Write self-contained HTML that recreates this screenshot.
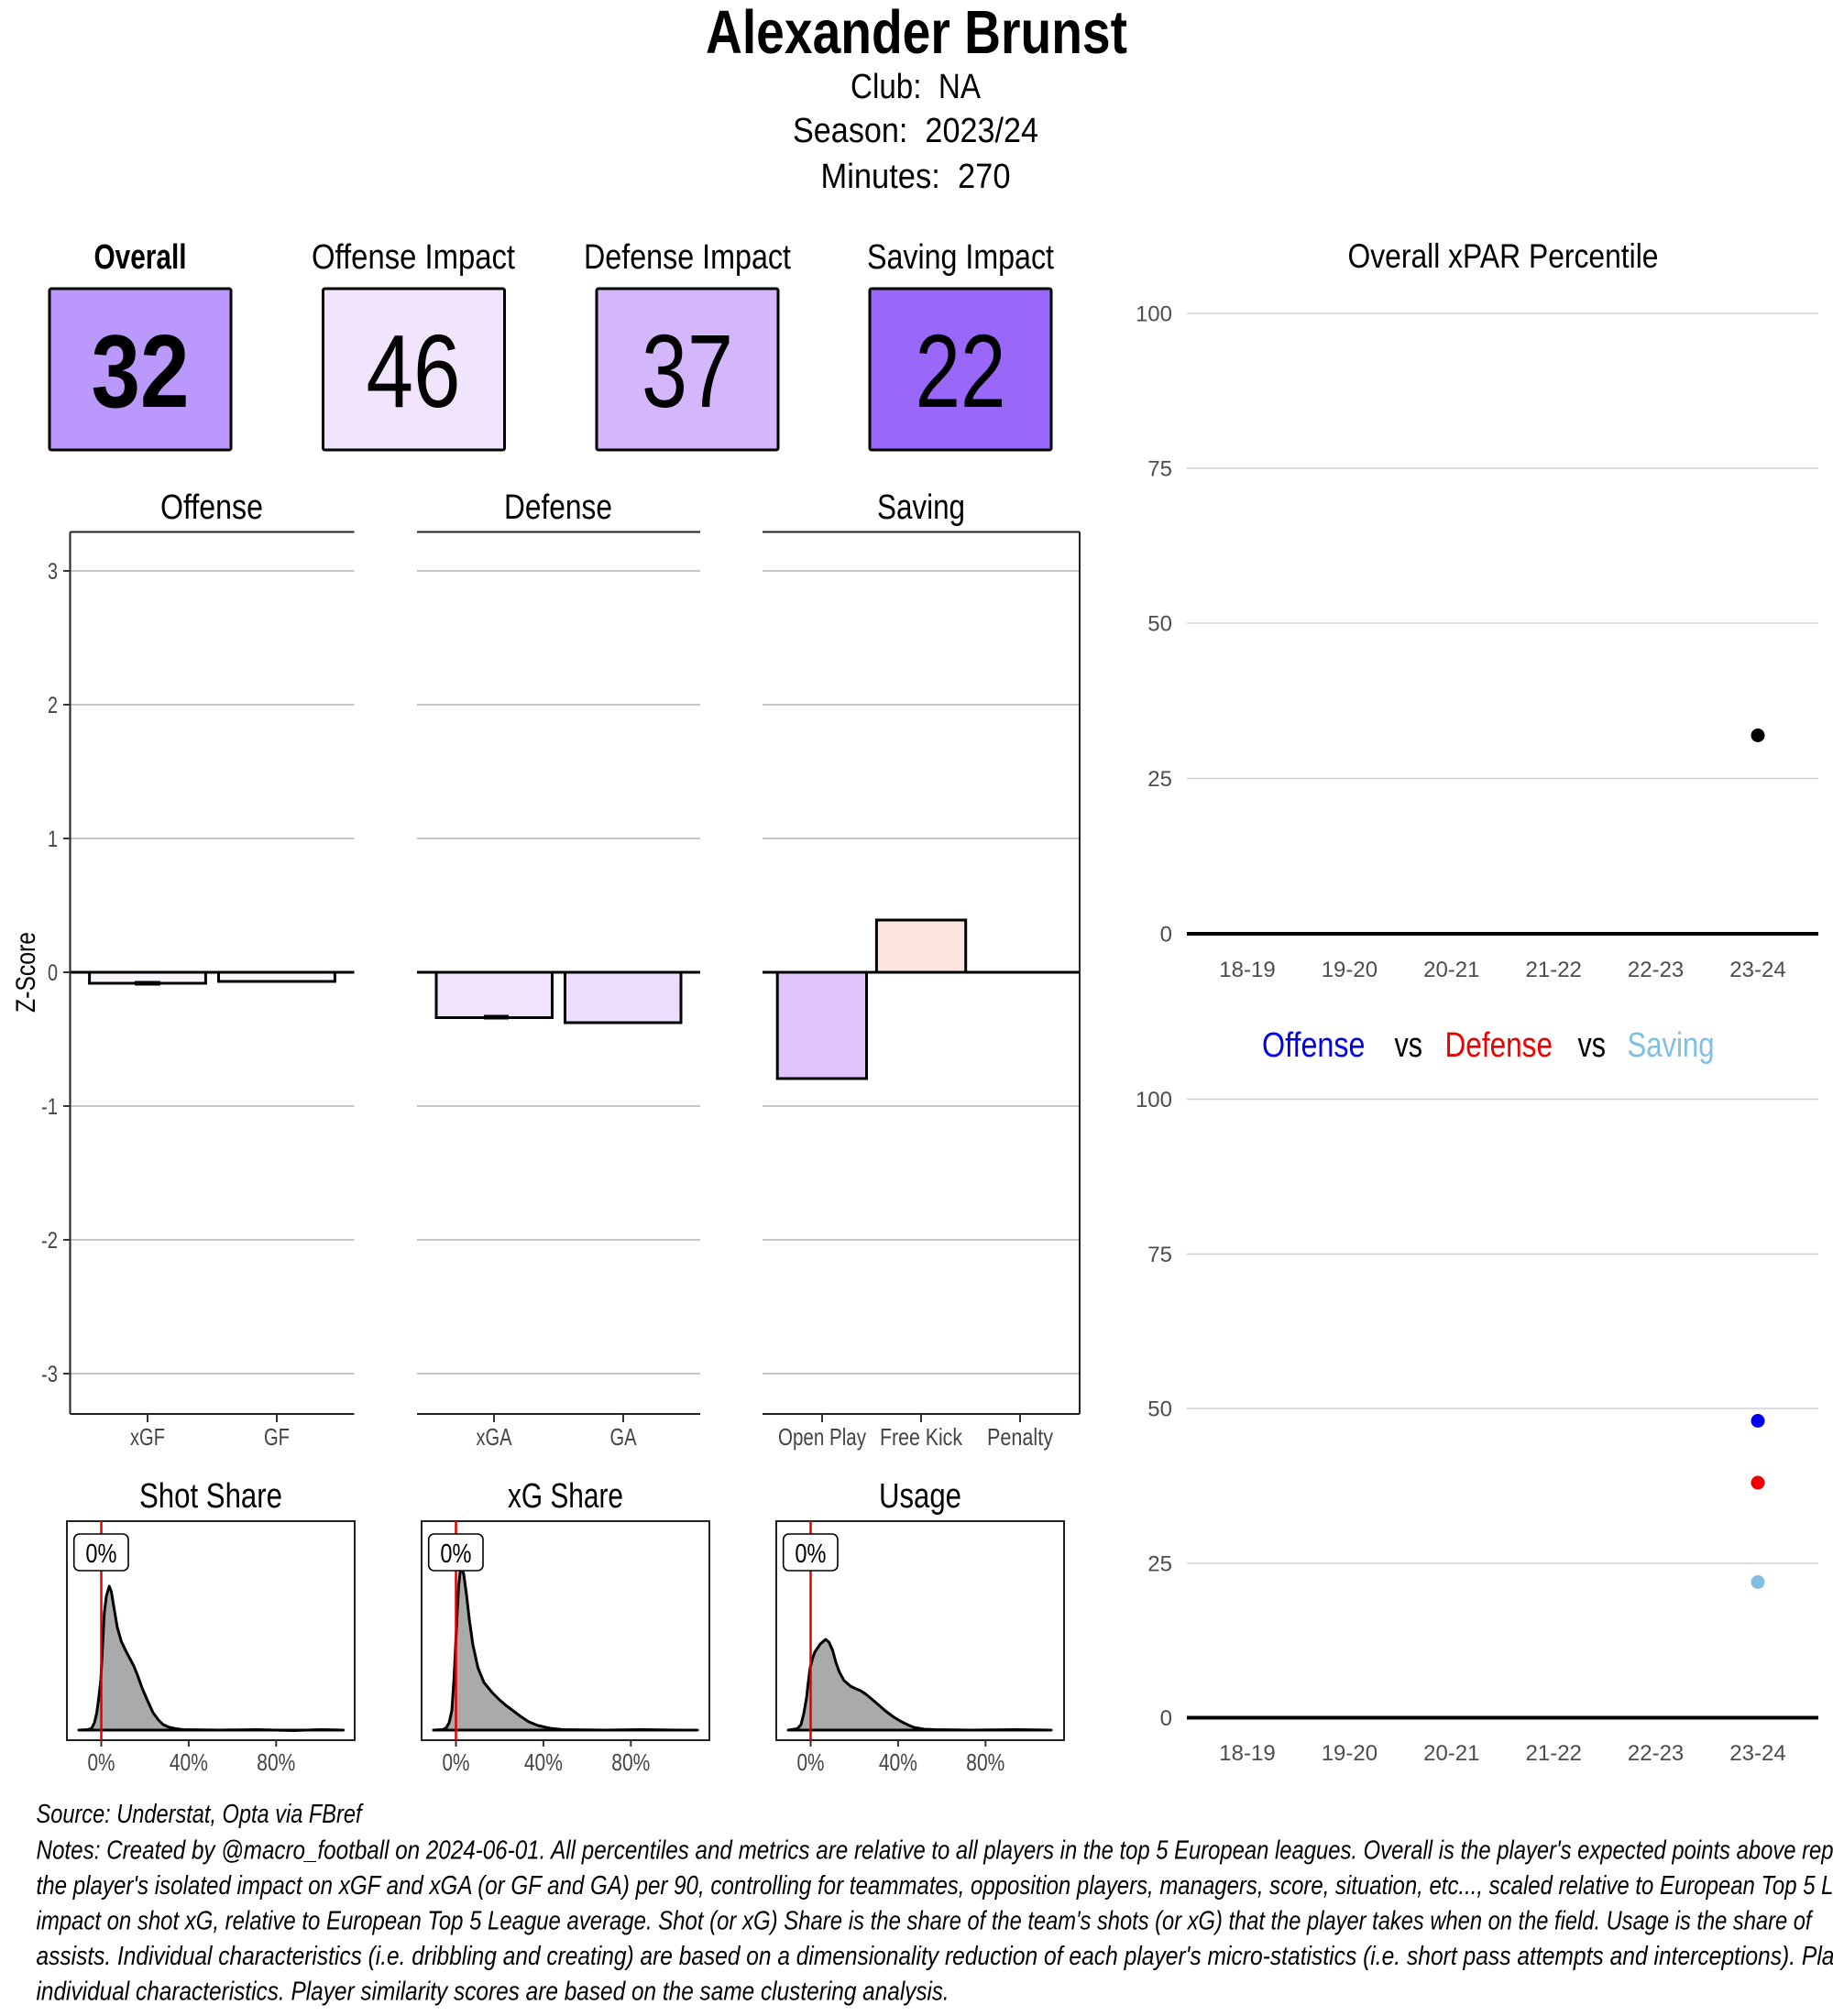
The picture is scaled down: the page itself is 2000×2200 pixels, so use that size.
<!DOCTYPE html>
<html>
<head>
<meta charset="utf-8">
<style>
html,body{margin:0;padding:0;background:#fff;}
body{width:2000px;height:2200px;overflow:hidden;}
svg{display:block;}
.n{font-family:"Liberation Sans Narrow","Liberation Sans",sans-serif;}
.r{font-family:"Liberation Sans",sans-serif;}
</style>
</head>
<body>
<svg width="2000" height="2200" viewBox="0 0 2000 2200" xmlns="http://www.w3.org/2000/svg">
<rect x="0" y="0" width="2000" height="2200" fill="#fff"/>

<!-- Header -->
<g class="n" text-anchor="middle" fill="#000">
  <text x="1000" y="58" font-size="67" font-weight="bold" textLength="460" lengthAdjust="spacingAndGlyphs">Alexander Brunst</text>
  <text x="999" y="107" font-size="38" textLength="142" lengthAdjust="spacingAndGlyphs">Club:&#160; NA</text>
  <text x="999" y="155" font-size="38" textLength="268" lengthAdjust="spacingAndGlyphs">Season:&#160; 2023/24</text>
  <text x="999" y="205" font-size="38" textLength="207" lengthAdjust="spacingAndGlyphs">Minutes:&#160; 270</text>
</g>

<!-- Impact boxes -->
<g class="n" text-anchor="middle" fill="#000">
  <text x="153" y="293" font-size="38" font-weight="bold" textLength="101" lengthAdjust="spacingAndGlyphs">Overall</text>
  <text x="451" y="293" font-size="38" textLength="222" lengthAdjust="spacingAndGlyphs">Offense Impact</text>
  <text x="750" y="293" font-size="38" textLength="226" lengthAdjust="spacingAndGlyphs">Defense Impact</text>
  <text x="1048" y="293" font-size="38" textLength="204" lengthAdjust="spacingAndGlyphs">Saving Impact</text>
</g>
<g stroke="#000" stroke-width="3">
  <rect x="54" y="315" width="198" height="176" rx="2" fill="#bb98fb"/>
  <rect x="352.5" y="315" width="198" height="176" rx="2" fill="#f1e4fd"/>
  <rect x="651" y="315" width="198" height="176" rx="2" fill="#d3b6fb"/>
  <rect x="949" y="315" width="198" height="176" rx="2" fill="#9a68f8"/>
</g>
<g class="n" text-anchor="middle" fill="#000" font-size="113">
  <text x="153" y="444" font-weight="bold" textLength="107" lengthAdjust="spacingAndGlyphs">32</text>
  <text x="451" y="444" textLength="103" lengthAdjust="spacingAndGlyphs">46</text>
  <text x="750" y="444" textLength="100" lengthAdjust="spacingAndGlyphs">37</text>
  <text x="1048" y="444" textLength="99" lengthAdjust="spacingAndGlyphs">22</text>
</g>

<!-- Bar chart strips -->
<g class="n" text-anchor="middle" fill="#000" font-size="38">
  <text x="231" y="566" textLength="112" lengthAdjust="spacingAndGlyphs">Offense</text>
  <text x="609" y="566" textLength="118" lengthAdjust="spacingAndGlyphs">Defense</text>
  <text x="1005" y="566" textLength="96" lengthAdjust="spacingAndGlyphs">Saving</text>
</g>

<!-- Gridlines bar chart -->
<g stroke="#b3b3b3" stroke-width="1.6">
  <line x1="76.5" y1="623" x2="386.5" y2="623"/><line x1="455" y1="623" x2="764" y2="623"/><line x1="832" y1="623" x2="1178" y2="623"/>
  <line x1="76.5" y1="769" x2="386.5" y2="769"/><line x1="455" y1="769" x2="764" y2="769"/><line x1="832" y1="769" x2="1178" y2="769"/>
  <line x1="76.5" y1="915" x2="386.5" y2="915"/><line x1="455" y1="915" x2="764" y2="915"/><line x1="832" y1="915" x2="1178" y2="915"/>
  <line x1="76.5" y1="1207" x2="386.5" y2="1207"/><line x1="455" y1="1207" x2="764" y2="1207"/><line x1="832" y1="1207" x2="1178" y2="1207"/>
  <line x1="76.5" y1="1353" x2="386.5" y2="1353"/><line x1="455" y1="1353" x2="764" y2="1353"/><line x1="832" y1="1353" x2="1178" y2="1353"/>
  <line x1="76.5" y1="1499" x2="386.5" y2="1499"/><line x1="455" y1="1499" x2="764" y2="1499"/><line x1="832" y1="1499" x2="1178" y2="1499"/>
</g>

<!-- Bars -->
<g stroke="#000" stroke-width="3">
  <rect x="97.6" y="1061" width="126.8" height="12" fill="#faf6ff"/>
  <rect x="238.5" y="1061" width="126.9" height="10" fill="#faf6ff"/>
  <rect x="476" y="1061" width="126.5" height="49.5" fill="#efe3fd"/>
  <rect x="616.5" y="1061" width="126.5" height="55" fill="#ebdefc"/>
  <rect x="848.2" y="1061" width="97.3" height="116" fill="#dfc5fb"/>
  <rect x="956.4" y="1004" width="97.3" height="57" fill="#fde5df"/>
</g>
<g stroke="#000" stroke-width="5">
  <line x1="147" y1="1073" x2="175" y2="1073"/>
  <line x1="528" y1="1110" x2="555" y2="1110"/>
</g>

<!-- Zero lines -->
<g stroke="#000" stroke-width="3">
  <line x1="76.5" y1="1061" x2="386.5" y2="1061"/>
  <line x1="455" y1="1061" x2="764" y2="1061"/>
  <line x1="832" y1="1061" x2="1178" y2="1061"/>
</g>

<!-- Panel borders -->
<g stroke="#222" stroke-width="2" fill="none">
  <line x1="76.5" y1="580.5" x2="386.5" y2="580.5"/>
  <line x1="455" y1="580.5" x2="764" y2="580.5"/>
  <line x1="832" y1="580.5" x2="1178" y2="580.5"/>
  <line x1="76.5" y1="1543" x2="386.5" y2="1543"/>
  <line x1="455" y1="1543" x2="764" y2="1543"/>
  <line x1="832" y1="1543" x2="1178" y2="1543"/>
  <line x1="76.5" y1="580.5" x2="76.5" y2="1543"/>
  <line x1="1178" y1="580.5" x2="1178" y2="1543"/>
</g>

<!-- Y ticks -->
<g stroke="#333" stroke-width="2">
  <line x1="69" y1="623" x2="76.5" y2="623"/><line x1="69" y1="769" x2="76.5" y2="769"/>
  <line x1="69" y1="915" x2="76.5" y2="915"/><line x1="69" y1="1061" x2="76.5" y2="1061"/>
  <line x1="69" y1="1207" x2="76.5" y2="1207"/><line x1="69" y1="1353" x2="76.5" y2="1353"/>
  <line x1="69" y1="1499" x2="76.5" y2="1499"/>
  <line x1="161" y1="1543" x2="161" y2="1552"/><line x1="302" y1="1543" x2="302" y2="1552"/>
  <line x1="539" y1="1543" x2="539" y2="1552"/><line x1="680" y1="1543" x2="680" y2="1552"/>
  <line x1="897" y1="1543" x2="897" y2="1552"/><line x1="1005" y1="1543" x2="1005" y2="1552"/>
  <line x1="1113" y1="1543" x2="1113" y2="1552"/>
</g>
<g class="n" font-size="25" fill="#444" text-anchor="end">
  <text x="63" y="632" textLength="11" lengthAdjust="spacingAndGlyphs">3</text>
  <text x="63" y="778" textLength="11" lengthAdjust="spacingAndGlyphs">2</text>
  <text x="63" y="924" textLength="11" lengthAdjust="spacingAndGlyphs">1</text>
  <text x="63" y="1070" textLength="11" lengthAdjust="spacingAndGlyphs">0</text>
  <text x="63" y="1216" textLength="18" lengthAdjust="spacingAndGlyphs">-1</text>
  <text x="63" y="1362" textLength="18" lengthAdjust="spacingAndGlyphs">-2</text>
  <text x="63" y="1508" textLength="18" lengthAdjust="spacingAndGlyphs">-3</text>
</g>
<g class="n" font-size="26" fill="#444" text-anchor="middle">
  <text x="161" y="1577" textLength="38" lengthAdjust="spacingAndGlyphs">xGF</text>
  <text x="302" y="1577" textLength="28" lengthAdjust="spacingAndGlyphs">GF</text>
  <text x="539" y="1577" textLength="39" lengthAdjust="spacingAndGlyphs">xGA</text>
  <text x="680" y="1577" textLength="29" lengthAdjust="spacingAndGlyphs">GA</text>
  <text x="897" y="1577" textLength="96" lengthAdjust="spacingAndGlyphs">Open Play</text>
  <text x="1005" y="1577" textLength="90" lengthAdjust="spacingAndGlyphs">Free Kick</text>
  <text x="1113" y="1577" textLength="72" lengthAdjust="spacingAndGlyphs">Penalty</text>
</g>
<text class="n" x="38" y="1061" font-size="30" fill="#000" text-anchor="middle" transform="rotate(-90 38 1061)" textLength="88" lengthAdjust="spacingAndGlyphs">Z-Score</text>

<!-- Density titles -->
<g class="n" text-anchor="middle" fill="#000" font-size="38">
  <text x="230" y="1645" textLength="156" lengthAdjust="spacingAndGlyphs">Shot Share</text>
  <text x="617" y="1645" textLength="126" lengthAdjust="spacingAndGlyphs">xG Share</text>
  <text x="1004" y="1645" textLength="90" lengthAdjust="spacingAndGlyphs">Usage</text>
</g>

<!-- Density curves -->
<g stroke="#000" stroke-width="3" stroke-linejoin="round" fill="#aaaaaa">
  <polygon points="86,1888 96,1887.5 100,1886 103,1880 105.4,1870 107.5,1855 110,1833 112,1795 113.8,1760 116,1742 119.2,1731 121.5,1737 124.6,1756 128,1776 132.3,1791 137,1801 142.3,1811 146,1818 150,1828 155,1842 161.5,1857 167,1869 173,1877 178,1882 184.6,1885 192,1886.5 200,1887.5 240,1888 280,1887.5 320,1888.5 350,1887.5 374.6,1888" />
  <polygon points="473,1888 483,1887.5 487,1885.5 490,1880 493,1867 495.5,1830 498.5,1767 500.5,1730 502.3,1713 504,1712 506,1718 509,1740 512,1767 516,1795 521.5,1820 528,1836 537,1847 545,1855 552,1861 560,1867 568,1873 577,1879 587,1883 600,1886 614,1887.5 660,1888 700,1887.5 740,1888 761,1888" />
  <polygon points="860,1888 870,1886.5 874,1882 877,1870 880,1853 882,1835 884,1820 886.5,1810 889,1803 895,1794 900.8,1789 904.5,1792 908.5,1801 912,1814 916,1825 921,1834 928,1840 934,1843 939,1845 945,1849 951,1854 958,1860 966,1867 974,1873 982,1878 990,1882 997,1885 1008,1887 1020,1887.5 1060,1888 1110,1887.5 1147,1888" />
</g>
<!-- Density panel borders -->
<g stroke="#222" stroke-width="2" fill="none">
  <rect x="73" y="1660" width="314" height="239"/>
  <rect x="460" y="1660" width="314" height="239"/>
  <rect x="847" y="1660" width="314" height="239"/>
</g>
<g stroke="#e00000" stroke-width="2.5">
  <line x1="110.5" y1="1660" x2="110.5" y2="1899"/>
  <line x1="497.5" y1="1660" x2="497.5" y2="1899"/>
  <line x1="884.5" y1="1660" x2="884.5" y2="1899"/>
</g>
<g stroke="#000" stroke-width="1.6" fill="#fff">
  <rect x="80.7" y="1674" width="59.3" height="40" rx="6"/>
  <rect x="467.7" y="1674" width="59.3" height="40" rx="6"/>
  <rect x="854.7" y="1674" width="59.3" height="40" rx="6"/>
</g>
<g class="n" text-anchor="middle" fill="#000" font-size="29">
  <text x="110.4" y="1705" textLength="34" lengthAdjust="spacingAndGlyphs">0%</text>
  <text x="497.4" y="1705" textLength="34" lengthAdjust="spacingAndGlyphs">0%</text>
  <text x="884.4" y="1705" textLength="34" lengthAdjust="spacingAndGlyphs">0%</text>
</g>
<g stroke="#333" stroke-width="2">
  <line x1="110.5" y1="1899" x2="110.5" y2="1906"/><line x1="205.9" y1="1899" x2="205.9" y2="1906"/><line x1="301.3" y1="1899" x2="301.3" y2="1906"/>
  <line x1="497.5" y1="1899" x2="497.5" y2="1906"/><line x1="592.9" y1="1899" x2="592.9" y2="1906"/><line x1="688.3" y1="1899" x2="688.3" y2="1906"/>
  <line x1="884.5" y1="1899" x2="884.5" y2="1906"/><line x1="979.9" y1="1899" x2="979.9" y2="1906"/><line x1="1075.3" y1="1899" x2="1075.3" y2="1906"/>
</g>
<g class="n" text-anchor="middle" fill="#444" font-size="26">
  <text x="110.5" y="1932" textLength="30" lengthAdjust="spacingAndGlyphs">0%</text><text x="205.9" y="1932" textLength="42" lengthAdjust="spacingAndGlyphs">40%</text><text x="301.3" y="1932" textLength="42" lengthAdjust="spacingAndGlyphs">80%</text>
  <text x="497.5" y="1932" textLength="30" lengthAdjust="spacingAndGlyphs">0%</text><text x="592.9" y="1932" textLength="42" lengthAdjust="spacingAndGlyphs">40%</text><text x="688.3" y="1932" textLength="42" lengthAdjust="spacingAndGlyphs">80%</text>
  <text x="884.5" y="1932" textLength="30" lengthAdjust="spacingAndGlyphs">0%</text><text x="979.9" y="1932" textLength="42" lengthAdjust="spacingAndGlyphs">40%</text><text x="1075.3" y="1932" textLength="42" lengthAdjust="spacingAndGlyphs">80%</text>
</g>

<!-- Right top panel -->
<text class="n" x="1640" y="292" font-size="37" text-anchor="middle" fill="#000" textLength="339" lengthAdjust="spacingAndGlyphs">Overall xPAR Percentile</text>
<g stroke="#d0d0d0" stroke-width="1.6">
  <line x1="1295" y1="342" x2="1984" y2="342"/>
  <line x1="1295" y1="511" x2="1984" y2="511"/>
  <line x1="1295" y1="680" x2="1984" y2="680"/>
  <line x1="1295" y1="849.5" x2="1984" y2="849.5"/>
</g>
<line x1="1295" y1="1019" x2="1984" y2="1019" stroke="#000" stroke-width="4"/>
<g class="r" font-size="24" fill="#4d4d4d" text-anchor="end">
  <text x="1279" y="350.5">100</text>
  <text x="1279" y="519.5">75</text>
  <text x="1279" y="688.5">50</text>
  <text x="1279" y="858">25</text>
  <text x="1279" y="1027.5">0</text>
</g>
<g class="r" font-size="24" fill="#4d4d4d" text-anchor="middle">
  <text x="1361" y="1066">18-19</text>
  <text x="1472.4" y="1066">19-20</text>
  <text x="1583.8" y="1066">20-21</text>
  <text x="1695.2" y="1066">21-22</text>
  <text x="1806.6" y="1066">22-23</text>
  <text x="1918" y="1066">23-24</text>
</g>
<circle cx="1918" cy="802.5" r="7.5" fill="#000"/>

<!-- Right bottom panel -->
<g class="n" font-size="38">
  <text x="1377" y="1153" fill="#0000ee" textLength="112.5" lengthAdjust="spacingAndGlyphs">Offense</text>
  <text x="1521.5" y="1153" fill="#000" textLength="30.5" lengthAdjust="spacingAndGlyphs">vs</text>
  <text x="1576.5" y="1153" fill="#ee0000" textLength="117.5" lengthAdjust="spacingAndGlyphs">Defense</text>
  <text x="1721.5" y="1153" fill="#000" textLength="30.5" lengthAdjust="spacingAndGlyphs">vs</text>
  <text x="1775.5" y="1153" fill="#80bfe3" textLength="95" lengthAdjust="spacingAndGlyphs">Saving</text>
</g>
<g stroke="#d0d0d0" stroke-width="1.6">
  <line x1="1295" y1="1199.5" x2="1984" y2="1199.5"/>
  <line x1="1295" y1="1368.5" x2="1984" y2="1368.5"/>
  <line x1="1295" y1="1537" x2="1984" y2="1537"/>
  <line x1="1295" y1="1706" x2="1984" y2="1706"/>
</g>
<line x1="1295" y1="1874.5" x2="1984" y2="1874.5" stroke="#000" stroke-width="4"/>
<g class="r" font-size="24" fill="#4d4d4d" text-anchor="end">
  <text x="1279" y="1208">100</text>
  <text x="1279" y="1377">75</text>
  <text x="1279" y="1545.5">50</text>
  <text x="1279" y="1714.5">25</text>
  <text x="1279" y="1883">0</text>
</g>
<g class="r" font-size="24" fill="#4d4d4d" text-anchor="middle">
  <text x="1361" y="1921">18-19</text>
  <text x="1472.4" y="1921">19-20</text>
  <text x="1583.8" y="1921">20-21</text>
  <text x="1695.2" y="1921">21-22</text>
  <text x="1806.6" y="1921">22-23</text>
  <text x="1918" y="1921">23-24</text>
</g>
<circle cx="1918" cy="1550.5" r="7.5" fill="#0000ee"/>
<circle cx="1918" cy="1618" r="7.5" fill="#ee0000"/>
<circle cx="1918" cy="1726.5" r="7.5" fill="#80bfe3"/>

<!-- Footer -->
<g class="n" font-size="28.5" font-style="italic" fill="#000">
  <text x="39.5" y="1989" textLength="355" lengthAdjust="spacingAndGlyphs">Source: Understat, Opta via FBref</text>
  <text x="39.5" y="2028.5" textLength="957" lengthAdjust="spacingAndGlyphs">Notes: Created by @macro_football on 2024-06-01. All percentiles and metrics are relativ</text>
  <text x="996.5" y="2028.5" textLength="1004" lengthAdjust="spacingAndGlyphs">e to all players in the top 5 European leagues. Overall is the player's expected points above rep</text>
  <text x="39.5" y="2067" textLength="961" lengthAdjust="spacingAndGlyphs">the player's isolated impact on xGF and xGA (or GF and GA) per 90, controlling for teamm</text>
  <text x="1000.5" y="2067" textLength="1000" lengthAdjust="spacingAndGlyphs">ates, opposition players, managers, score, situation, etc..., scaled relative to European Top 5 L</text>
  <text x="39.5" y="2105.5" textLength="962" lengthAdjust="spacingAndGlyphs">impact on shot xG, relative to European Top 5 League average. Shot (or xG) Share is the s</text>
  <text x="1001.5" y="2105.5" textLength="975" lengthAdjust="spacingAndGlyphs">hare of the team's shots (or xG) that the player takes when on the field. Usage is the share of</text>
  <text x="39.5" y="2144" textLength="960" lengthAdjust="spacingAndGlyphs">assists. Individual characteristics (i.e. dribbling and creating) are based on a dimensional</text>
  <text x="999.5" y="2144" textLength="1002" lengthAdjust="spacingAndGlyphs">ity reduction of each player's micro-statistics (i.e. short pass attempts and interceptions). Pla</text>
  <text x="39.5" y="2182.5" textLength="960" lengthAdjust="spacingAndGlyphs">individual characteristics. Player similarity scores are based on the same clustering analy</text>
  <text x="999.5" y="2182.5" textLength="36" lengthAdjust="spacingAndGlyphs">sis.</text>
</g>
</svg>
</body>
</html>
